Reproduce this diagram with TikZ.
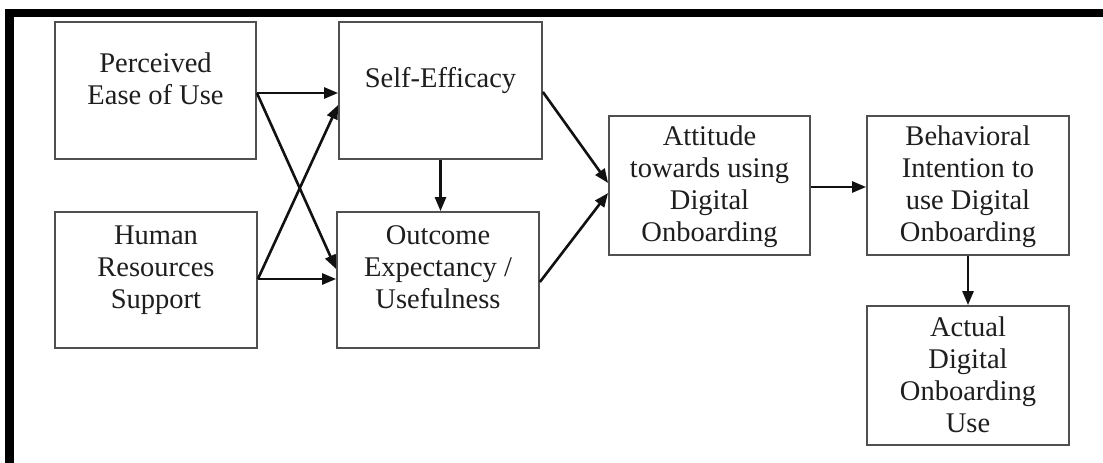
\documentclass[tikz,border=0pt]{standalone}
\usepackage{fontspec}
\setmainfont{Liberation Serif}
\usetikzlibrary{arrows.meta}
\definecolor{boxgray}{HTML}{505050}
\definecolor{txt}{HTML}{1e1e1e}
\definecolor{arr}{HTML}{111111}
\begin{document}
\begin{tikzpicture}[x=1pt,y=-1pt,
  box/.style={draw=boxgray, line width=1.8pt, inner sep=0pt, fill=white},
  lbl/.style={anchor=north, inner sep=0pt, align=center, text=txt,
    font=\fontsize{28.5}{32}\selectfont},
  conn/.style={draw=arr, line width=2.6pt, -{Triangle[length=14pt,width=11pt]}},
  frame/.style={fill=black}]
\useasboundingbox (0,0) rectangle (1103,463);
% frame
\fill[frame] (5,9) rectangle (1103,17);
\fill[frame] (5,9) rectangle (14,463);
% boxes
\node[box, minimum width=201pt, minimum height=137pt] (peou) at (155.5,90.5) {};
\node[box, minimum width=202pt, minimum height=136pt] (hrs) at (156,280) {};
\node[box, minimum width=203pt, minimum height=137pt] (se) at (440.5,90.5) {};
\node[box, minimum width=202pt, minimum height=136pt] (oe) at (438,280) {};
\node[box, minimum width=201pt, minimum height=139pt] (att) at (709.5,185.5) {};
\node[box, minimum width=202pt, minimum height=139pt] (bi) at (968,185.5) {};
\node[box, minimum width=202pt, minimum height=139pt] (adu) at (968,375.5) {};
% labels
\node[lbl] (peout) at (peou.north |- 0,52.7) {Perceived\\Ease of Use};
\node[lbl] (hrst) at (hrs.north |- 0,225.7) {Human\\Resources\\Support};
\node[lbl] (set) at (se.north |- 0,67.7) {Self-Efficacy};
\node[lbl] (oet) at (oe.north |- 0,225.7) {Outcome\\Expectancy /\\Usefulness};
\node[lbl] (attt) at (att.north |- 0,125.7) {Attitude\\towards using\\Digital\\Onboarding};
\node[lbl] (bit) at (bi.north |- 0,125.7) {Behavioral\\Intention to\\use Digital\\Onboarding};
\node[lbl] (adut) at (adu.north |- 0,316.7) {Actual\\Digital\\Onboarding\\Use};
% connectors
\draw[conn] (peou.east |- 0,93) -- (se.west |- 0,93);
\draw[conn] (peou.east |- 0,93) -- (oe.west |- 0,269);
\draw[conn] (hrs.east |- 0,279) -- (se.west |- 0,105);
\draw[conn] (hrs.east |- 0,279) -- (oe.west |- 0,279);
\draw[conn] (se.south) -- (se.south |- oe.north);
\draw[conn] (se.east |- 0,92) -- (att.west |- 0,183);
\draw[conn] (oe.east |- 0,282) -- (att.west |- 0,193);
\draw[conn] (att.east |- 0,187) -- (bi.west |- 0,187);
\draw[conn] (bi.south) -- (adu.north);
\end{tikzpicture}
\end{document}
